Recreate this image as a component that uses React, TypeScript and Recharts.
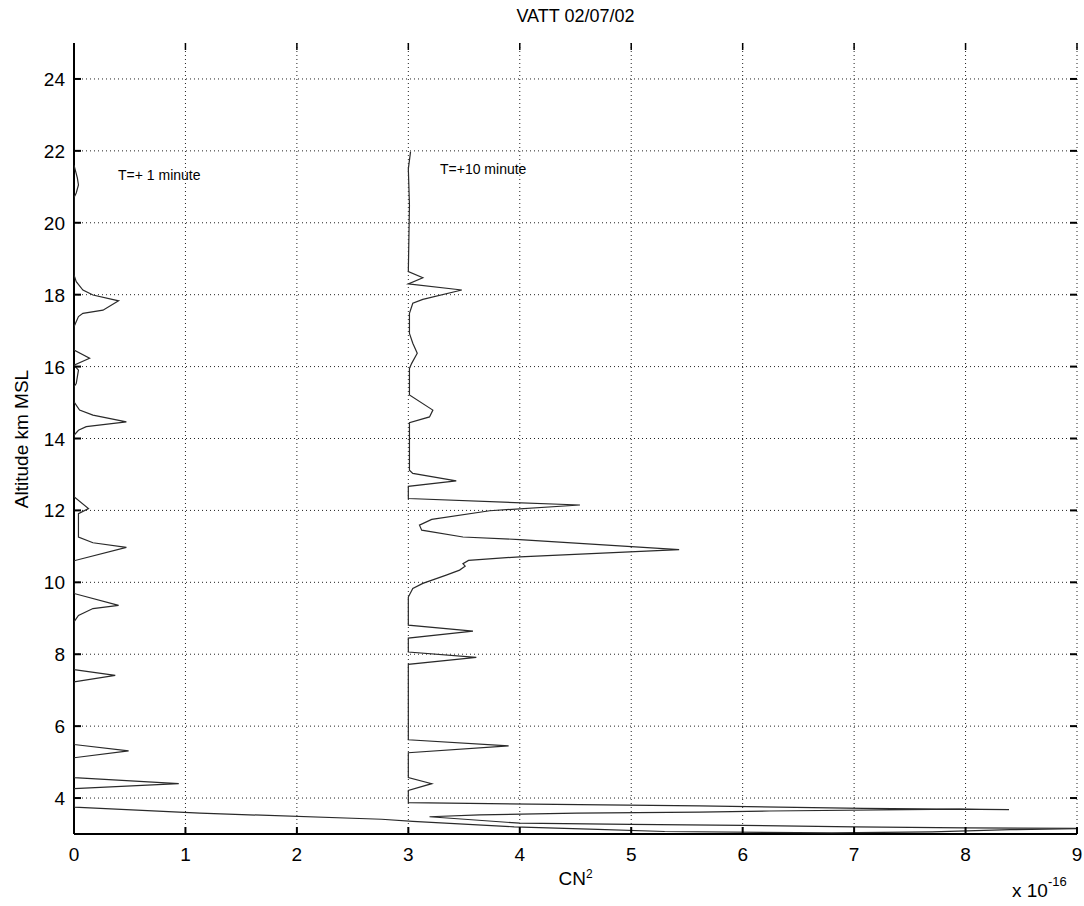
import React from "react";
import { ScatterChart, Scatter, XAxis, YAxis, CartesianGrid } from "recharts";

// Plot box in page pixels (chart is pinned at the page origin).
const W = 1084;
const H = 906;
const LEFT = 74;
const TOP = 43;
const RIGHT = 1077;
const BOTTOM = 834;

const FONT = "'Liberation Sans', Arial, Helvetica, sans-serif";
const INK = "#000";
const TRACE = "#2a2a2a";

const X_TICKS = [0, 1, 2, 3, 4, 5, 6, 7, 8, 9];
const Y_TICKS = [4, 6, 8, 10, 12, 14, 16, 18, 20, 22, 24];

// T=+1 minute profile, read top to bottom (CN2 in units of 1e-16, altitude km)
const cn1 = [
  0, 0.03, 0.04, 0.02, 0, 0, 0.02, 0.08, 0.17, 0.4, 0.26, 0.08, 0.04, 0, 0, 0.14,
  0, 0.04, 0.02, 0, 0, 0.05, 0.17, 0.47, 0.11, 0.04, 0, 0, 0.13, 0.04, 0.04, 0.17,
  0.47, 0, 0, 0.4, 0.17, 0.04, 0, 0, 0.37, 0, 0, 0.49, 0, 0, 0.94, 0, 0,
  1.13, 2.76, 3.04, 3.95, 4.7, 5.3, 6.8, 7.7, 8.4, 9,
];
const alt1 = [
  21.6, 21.25, 21.05, 20.83, 20.7, 18.55, 18.36, 18.13, 17.99, 17.83, 17.57, 17.48,
  17.39, 17.11, 16.46, 16.23, 16.04, 15.9, 15.53, 15.44, 15.02, 14.79, 14.65, 14.46,
  14.33, 14.23, 14.09, 12.38, 12.05, 11.91, 11.26, 11.1, 10.97, 10.6, 9.69, 9.36,
  9.27, 9.08, 8.9, 7.57, 7.41, 7.23, 5.49, 5.31, 5.12, 4.57, 4.4, 4.26, 3.75,
  3.58, 3.41, 3.35, 3.2, 3.13, 3.07, 3.03, 3.06, 3.12, 3.15,
];

// T=+10 minute profile, drawn offset by 3 on the CN2 axis
const cn2 = [
  3.02, 3.0, 3.01, 3.0, 3.13, 3.0, 3.48, 3.13, 3.04, 3.01, 3.01, 3.04, 3.08, 3.03,
  3.01, 3.01, 3.22, 3.19, 3.01, 3.01, 3.04, 3.43, 3.0, 3.0, 4.54, 3.73, 3.21, 3.1,
  3.12, 3.49, 4.0, 5.43, 4.0, 3.54, 3.49, 3.51, 3.46, 3.34, 3.13, 3.04, 3.0, 3.0,
  3.58, 3.0, 3.0, 3.61, 3.0, 3.0, 3.9, 3.0, 3.0, 3.21, 3.0, 3.0, 5.61, 7.08, 8.39,
  7.95, 6.24, 5.61, 4.51, 3.64, 3.19, 4.0, 5.0, 6.0, 7.0, 8.0, 9,
];
const alt2 = [
  21.98, 21.5, 20.5, 18.64, 18.47, 18.3, 18.13, 17.87, 17.76, 17.48, 16.92, 16.65,
  16.37, 16.09, 15.95, 15.21, 14.79, 14.6, 14.44, 13.12, 13.03, 12.82, 12.67, 12.33,
  12.15, 11.99, 11.75, 11.59, 11.45, 11.26, 11.19, 10.91, 10.71, 10.61, 10.52,
  10.45, 10.34, 10.2, 9.97, 9.83, 9.59, 8.81, 8.64, 8.45, 8.06, 7.91, 7.72, 5.62,
  5.45, 5.26, 4.57, 4.4, 4.21, 3.87, 3.78, 3.71, 3.68, 3.69, 3.64, 3.61, 3.58, 3.53,
  3.48, 3.3, 3.27, 3.24, 3.2, 3.17, 3.16,
];

const profile1 = cn1.map((x, i) => ({ x, y: alt1[i] }));
const profile2 = cn2.map((x, i) => ({ x, y: alt2[i] }));

const TICK_LEN = 7;

/** Bottom tick: label below, inward tick marks on bottom and top edges. */
function XTick(props: { payload?: { value: number; coordinate: number } }) {
  const { payload } = props;
  if (!payload) return null;
  const cx = payload.coordinate;
  return (
    <g>
      <line x1={cx} x2={cx} y1={BOTTOM} y2={BOTTOM - TICK_LEN} stroke={INK} strokeWidth={2} />
      <line x1={cx} x2={cx} y1={TOP} y2={TOP + TICK_LEN} stroke={INK} strokeWidth={1.5} />
      <text x={cx} y={BOTTOM + 27} textAnchor="middle" fontSize={19} fontFamily={FONT} fill={INK}>
        {payload.value}
      </text>
    </g>
  );
}

/** Left tick: label to the left, inward tick marks on left and right edges. */
function YTick(props: { payload?: { value: number; coordinate: number } }) {
  const { payload } = props;
  if (!payload) return null;
  const cy = payload.coordinate;
  return (
    <g>
      <line x1={LEFT} x2={LEFT + TICK_LEN} y1={cy} y2={cy} stroke={INK} strokeWidth={2} />
      <line x1={RIGHT} x2={RIGHT - TICK_LEN} y1={cy} y2={cy} stroke={INK} strokeWidth={2} />
      <text x={LEFT - 9} y={cy + 7} textAnchor="end" fontSize={19} fontFamily={FONT} fill={INK}>
        {payload.value}
      </text>
    </g>
  );
}

const noDot = () => <g />;

export default function App() {
  return (
    <div style={{ position: "absolute", left: 0, top: 0, width: W, height: H, background: "#fff" }}>
      <ScatterChart
        width={W}
        height={H}
        margin={{ top: TOP, right: W - RIGHT, bottom: 0, left: 0 }}
      >
        <CartesianGrid
          stroke="#222"
          strokeDasharray="1 3"
          verticalValues={X_TICKS}
          horizontalValues={Y_TICKS}
        />
        <XAxis
          type="number"
          dataKey="x"
          domain={[0, 9]}
          ticks={X_TICKS}
          interval={0}
          tick={<XTick />}
          tickLine={false}
          axisLine={{ stroke: INK, strokeWidth: 2 }}
          height={H - BOTTOM}
          allowDataOverflow
        />
        <XAxis
          xAxisId="top"
          orientation="top"
          type="number"
          domain={[0, 9]}
          height={0}
          tick={false}
          tickLine={false}
          axisLine={{ stroke: INK, strokeWidth: 2 }}
        />
        <YAxis
          type="number"
          dataKey="y"
          domain={[3, 25]}
          ticks={Y_TICKS}
          interval={0}
          tick={<YTick />}
          tickLine={false}
          axisLine={{ stroke: INK, strokeWidth: 2 }}
          width={LEFT}
          allowDataOverflow
        />
        <YAxis
          yAxisId="right"
          orientation="right"
          type="number"
          domain={[3, 25]}
          width={0}
          tick={false}
          tickLine={false}
          axisLine={{ stroke: INK, strokeWidth: 2 }}
        />
        <Scatter
          data={profile1}
          line={{ stroke: TRACE, strokeWidth: 1.2 }}
          lineType="joint"
          shape={noDot}
          isAnimationActive={false}
        />
        <Scatter
          data={profile2}
          line={{ stroke: TRACE, strokeWidth: 1.2 }}
          lineType="joint"
          shape={noDot}
          isAnimationActive={false}
        />
      </ScatterChart>

      <div
        style={{
          position: "absolute",
          left: LEFT,
          width: RIGHT - LEFT,
          top: 6,
          textAlign: "center",
          fontFamily: FONT,
          fontSize: 18,
          color: INK,
        }}
      >
        VATT 02/07/02
      </div>
      <div
        style={{
          position: "absolute",
          left: 22,
          top: (TOP + BOTTOM) / 2,
          transform: "translate(-50%, -50%) rotate(-90deg)",
          whiteSpace: "nowrap",
          fontFamily: FONT,
          fontSize: 19,
          color: INK,
        }}
      >
        Altitude km MSL
      </div>
      <div
        style={{
          position: "absolute",
          left: LEFT,
          width: RIGHT - LEFT,
          top: 867,
          textAlign: "center",
          fontFamily: FONT,
          fontSize: 19,
          color: INK,
        }}
      >
        CN<sup style={{ fontSize: 12 }}>2</sup>
      </div>
      <div
        style={{
          position: "absolute",
          left: 1012,
          top: 878,
          fontFamily: FONT,
          fontSize: 19,
          color: INK,
          whiteSpace: "nowrap",
        }}
      >
        x 10<sup style={{ fontSize: 13, position: "relative", top: -4 }}>-16</sup>
      </div>
      <div
        style={{
          position: "absolute",
          left: 118,
          top: 167,
          fontFamily: FONT,
          fontSize: 14,
          color: INK,
          whiteSpace: "nowrap",
        }}
      >
        T=+ 1 minute
      </div>
      <div
        style={{
          position: "absolute",
          left: 440,
          top: 161,
          fontFamily: FONT,
          fontSize: 14,
          color: INK,
          whiteSpace: "nowrap",
        }}
      >
        T=+10 minute
      </div>
    </div>
  );
}
